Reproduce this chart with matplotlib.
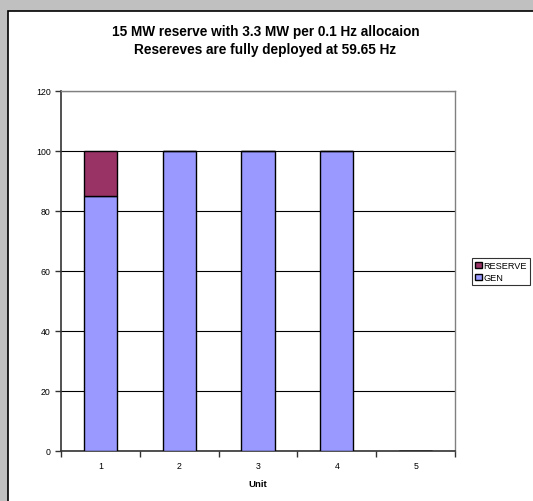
import matplotlib
matplotlib.use("Agg")
import matplotlib.pyplot as plt
from matplotlib.patches import Rectangle
import numpy as np

units = [1, 2, 3, 4, 5]
gen = [85, 100, 100, 100, 0]
reserve = [15, 0, 0, 0, 0]
yticks = [0, 20, 40, 60, 80, 100, 120]
title_lines = ["15 MW reserve with 3.3 MW per 0.1 Hz allocaion",
               "Resereves are fully deployed at 59.65 Hz"]

plt.rcParams['font.family'] = ['Liberation Sans', 'DejaVu Sans']

W, H = 533, 502
fig = plt.figure(figsize=(W / 100, H / 100), dpi=100)
fig.patch.set_facecolor('#C0C0C0')
bg = Rectangle((7.5 / W, -0.01), 1, 1 - 11.5 / H + 0.01, transform=fig.transFigure,
               facecolor='white', edgecolor='black', linewidth=1.2, zorder=-10)
fig.patches.append(bg)

ax = fig.add_axes([61 / W, 1 - 452 / H, 394 / W, 360 / H])
ax.set_facecolor('white')
x = np.arange(1, len(units) + 1)
ax.bar(x, gen, width=0.42, color='#9999FF', edgecolor='black', linewidth=1, label='GEN', zorder=3)
ax.bar(x, reserve, width=0.42, bottom=gen, color='#993366', edgecolor='black', linewidth=1,
       label='RESERVE', zorder=3)

ax.set_xlim(0.5, 5.5)
ax.set_ylim(0, 120)
ax.set_yticks(yticks)
ax.set_yticklabels([str(v) for v in yticks], fontsize=6.3)
ax.set_xticks(np.arange(0.5, 5.6, 1))
ax.set_xticklabels([])
ax.set_xticks(x, minor=True)
ax.set_xticklabels([str(u) for u in units], minor=True, fontsize=6.3)
ax.tick_params(axis='x', which='minor', length=0, pad=7.5)
ax.tick_params(axis='x', which='major', length=4, width=1, direction='out', color='#333333')
ax.tick_params(axis='y', length=4, width=1, direction='out', color='#333333', pad=3.5)
ax.yaxis.grid(True, color='black', linewidth=0.8, zorder=1)
ax.set_axisbelow(True)
for s in ['top', 'right']:
    ax.spines[s].set_color('#808080')
    ax.spines[s].set_linewidth(1)
for s in ['left', 'bottom']:
    ax.spines[s].set_color('#333333')
    ax.spines[s].set_linewidth(1.2)
ax.set_xlabel('Unit', fontsize=6.8, fontweight='bold', labelpad=6)

fig.text(265.5 / W, 1 - 32 / H, title_lines[0], ha='center', va='center', fontsize=9.8,
         fontweight='bold')
fig.text(265.5 / W, 1 - 50 / H, title_lines[1], ha='center', va='center', fontsize=9.8,
         fontweight='bold')

handles, labels = ax.get_legend_handles_labels()
leg = fig.legend(handles[::-1], labels[::-1], loc='upper left',
                 bbox_to_anchor=(472 / W, 1 - 259 / H), fontsize=6.6, frameon=True,
                 fancybox=False, edgecolor='black', handlelength=0.7, handleheight=0.7,
                 handletextpad=0.2, borderpad=0.35, labelspacing=0.3, borderaxespad=0)
leg.get_frame().set_linewidth(0.8)

fig.savefig('out.png', dpi=100, facecolor=fig.get_facecolor())
